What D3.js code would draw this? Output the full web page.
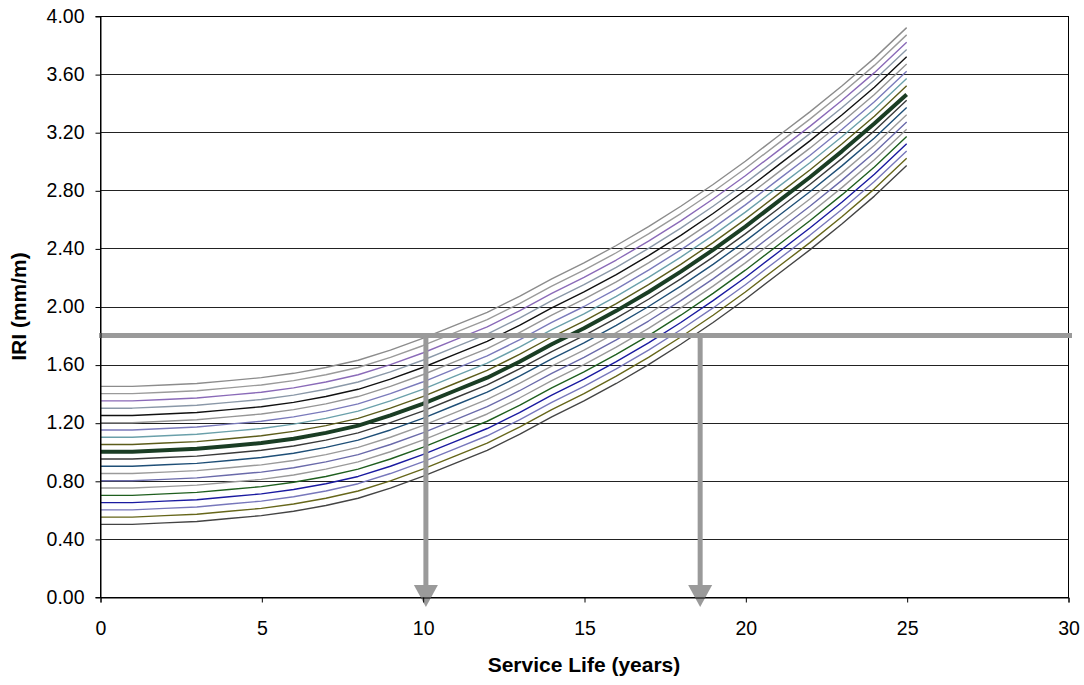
<!DOCTYPE html>
<html>
<head>
<meta charset="utf-8">
<script src="https://cdn.jsdelivr.net/npm/d3@7"></script>
<style>
    body { margin: 0; background: #fff; }
    svg { display: block; font-family: "Liberation Sans", Arial, sans-serif; }
</style>
</head>
<body>
<div id="chart"></div>
<script>
// service life in years (x values of every curve)
const years = d3.range(0, 26);

// IRI (mm/m) curves, one per initial roughness
const iri050 = [0.50,0.50,0.51,0.52,0.54,0.56,0.59,0.63,0.68,0.75,0.83,0.92,1.01,1.12,1.24,1.35,1.47,1.60,1.74,1.89,2.05,2.22,2.39,2.57,2.76,2.97];
const iri055 = [0.55,0.55,0.56,0.57,0.59,0.61,0.64,0.68,0.73,0.80,0.88,0.97,1.06,1.17,1.29,1.40,1.52,1.65,1.79,1.94,2.10,2.27,2.44,2.62,2.81,3.02];
const iri060 = [0.60,0.60,0.61,0.62,0.64,0.66,0.69,0.73,0.78,0.85,0.93,1.02,1.11,1.22,1.34,1.45,1.57,1.70,1.84,1.99,2.15,2.32,2.49,2.67,2.86,3.07];
const iri065 = [0.65,0.65,0.66,0.67,0.69,0.71,0.74,0.78,0.83,0.90,0.98,1.07,1.16,1.27,1.39,1.50,1.62,1.75,1.89,2.04,2.20,2.37,2.54,2.72,2.91,3.12];
const iri070 = [0.70,0.70,0.71,0.72,0.74,0.76,0.79,0.83,0.88,0.95,1.03,1.12,1.21,1.32,1.44,1.55,1.67,1.80,1.94,2.09,2.25,2.42,2.59,2.77,2.96,3.17];
const iri075 = [0.75,0.75,0.76,0.77,0.79,0.81,0.84,0.88,0.93,1.00,1.08,1.17,1.26,1.37,1.49,1.60,1.72,1.85,1.99,2.14,2.30,2.47,2.64,2.82,3.01,3.22];
const iri080 = [0.80,0.80,0.81,0.82,0.84,0.86,0.89,0.93,0.98,1.05,1.13,1.22,1.31,1.42,1.54,1.65,1.77,1.90,2.04,2.19,2.35,2.52,2.69,2.87,3.06,3.27];
const iri085 = [0.85,0.85,0.86,0.87,0.89,0.91,0.94,0.98,1.03,1.10,1.18,1.27,1.36,1.47,1.59,1.70,1.82,1.95,2.09,2.24,2.40,2.57,2.74,2.92,3.11,3.32];
const iri090 = [0.90,0.90,0.91,0.92,0.94,0.96,0.99,1.03,1.08,1.15,1.23,1.32,1.41,1.52,1.64,1.75,1.87,2.00,2.14,2.29,2.45,2.62,2.79,2.97,3.16,3.37];
const iri095 = [0.95,0.95,0.96,0.97,0.99,1.01,1.04,1.08,1.13,1.20,1.28,1.37,1.46,1.57,1.69,1.80,1.92,2.05,2.19,2.34,2.50,2.67,2.84,3.02,3.21,3.42];
const iri100 = [1.00,1.00,1.01,1.02,1.04,1.06,1.09,1.13,1.18,1.25,1.33,1.42,1.51,1.62,1.74,1.85,1.97,2.10,2.24,2.39,2.55,2.72,2.89,3.07,3.26,3.46];
const iri105 = [1.05,1.05,1.06,1.07,1.09,1.11,1.14,1.18,1.23,1.30,1.38,1.47,1.56,1.67,1.79,1.90,2.02,2.15,2.29,2.44,2.60,2.77,2.94,3.12,3.31,3.52];
const iri110 = [1.10,1.10,1.11,1.12,1.14,1.16,1.19,1.23,1.28,1.35,1.43,1.52,1.61,1.72,1.84,1.95,2.07,2.20,2.34,2.49,2.65,2.82,2.99,3.17,3.36,3.57];
const iri115 = [1.15,1.15,1.16,1.17,1.19,1.21,1.24,1.28,1.33,1.40,1.48,1.57,1.66,1.77,1.89,2.00,2.12,2.25,2.39,2.54,2.70,2.87,3.04,3.22,3.41,3.62];
const iri120 = [1.20,1.20,1.21,1.22,1.24,1.26,1.29,1.33,1.38,1.45,1.53,1.62,1.71,1.82,1.94,2.05,2.17,2.30,2.44,2.59,2.75,2.92,3.09,3.27,3.46,3.67];
const iri125 = [1.25,1.25,1.26,1.27,1.29,1.31,1.34,1.38,1.43,1.50,1.58,1.67,1.76,1.87,1.99,2.10,2.22,2.35,2.49,2.64,2.80,2.97,3.14,3.32,3.51,3.72];
const iri130 = [1.30,1.30,1.31,1.32,1.34,1.36,1.39,1.43,1.48,1.55,1.63,1.72,1.81,1.92,2.04,2.15,2.27,2.40,2.54,2.69,2.85,3.02,3.19,3.37,3.56,3.77];
const iri135 = [1.35,1.35,1.36,1.37,1.39,1.41,1.44,1.48,1.53,1.60,1.68,1.77,1.86,1.97,2.09,2.20,2.32,2.45,2.59,2.74,2.90,3.07,3.24,3.42,3.61,3.82];
const iri140 = [1.40,1.40,1.41,1.42,1.44,1.46,1.49,1.53,1.58,1.65,1.73,1.82,1.91,2.02,2.14,2.25,2.37,2.50,2.64,2.79,2.95,3.12,3.29,3.47,3.66,3.87];
const iri145 = [1.45,1.45,1.46,1.47,1.49,1.51,1.54,1.58,1.63,1.70,1.78,1.87,1.96,2.07,2.19,2.30,2.42,2.55,2.69,2.84,3.00,3.17,3.34,3.52,3.71,3.92];

const curves = [iri050, iri055, iri060, iri065, iri070, iri075, iri080, iri085, iri090, iri095,
                iri100, iri105, iri110, iri115, iri120, iri125, iri130, iri135, iri140, iri145];
const curveColors = ["#444444", "#66661a", "#7777bb", "#1a1aa0", "#1f5f1f", "#999999", "#6a6aaa", "#9a9a9a", "#1f4f77", "#3a3a3a",
                     "#1a3d24", "#5c5c1a", "#6aa0aa", "#7a7abb", "#959595", "#111111", "#8a98a8", "#8a6ab8", "#9a9a9a", "#8c8c8c"];
const thickCurve = 10; // index of the 1.00 curve

// threshold and the service lives read at it
const thresholdIRI = 1.8;
const crossYears = [10.1, 18.6];

const xTicks = [0, 5, 10, 15, 20, 25, 30];
const yTicks = d3.range(0, 4.01, 0.4);

const width = 1084;
const height = 685;
const margin = { top: 16, right: 16, bottom: 88, left: 100 };

const svg = d3
    .select("#chart")
    .append("svg")
    .attr("width", width)
    .attr("height", height);

const x = d3.scaleLinear().domain([0, 30]).range([margin.left, width - margin.right]);
const y = d3.scaleLinear().domain([0, 4]).range([height - margin.bottom, margin.top]);

// gridlines
svg.append("g")
    .selectAll("line")
    .data(yTicks)
    .enter()
    .append("line")
    .attr("x1", x(0))
    .attr("x2", x(30))
    .attr("y1", (d) => Math.round(y(d)) + 0.5)
    .attr("y2", (d) => Math.round(y(d)) + 0.5)
    .attr("stroke", "#222")
    .attr("stroke-width", 1);

// curves
const line = d3
    .line()
    .x((d, i) => x(years[i]))
    .y((d) => y(d));

svg.append("g")
    .selectAll("path")
    .data(curves)
    .enter()
    .append("path")
    .attr("d", line)
    .attr("fill", "none")
    .attr("stroke", (d, i) => curveColors[i])
    .attr("stroke-width", (d, i) => (i === thickCurve ? 4 : 1.4))
    .attr("stroke-linejoin", "round");

// plot border
svg.append("rect")
    .attr("x", x(0) + 0.5)
    .attr("y", y(4) + 0.5)
    .attr("width", x(30) - x(0))
    .attr("height", y(0) - y(4))
    .attr("fill", "none")
    .attr("stroke", "#000");

// threshold line and arrows
const arrowColor = "#9a9a9a";
svg.append("line")
    .attr("x1", x(0) - 1)
    .attr("x2", x(30) + 4)
    .attr("y1", y(thresholdIRI))
    .attr("y2", y(thresholdIRI))
    .attr("stroke", arrowColor)
    .attr("stroke-width", 5);

const arrows = svg.append("g")
    .selectAll("g")
    .data(crossYears)
    .enter()
    .append("g");

arrows.append("line")
    .attr("x1", (d) => x(d))
    .attr("x2", (d) => x(d))
    .attr("y1", y(thresholdIRI))
    .attr("y2", y(0) - 12)
    .attr("stroke", arrowColor)
    .attr("stroke-width", 5);

arrows.append("path")
    .attr("d", (d) => `M${x(d) - 12},${y(0) - 12} L${x(d) + 12},${y(0) - 12} L${x(d)},${y(0) + 10} Z`)
    .attr("fill", arrowColor);

// axes
const yAxis = d3
    .axisLeft(y)
    .tickValues(yTicks)
    .tickSize(5)
    .tickPadding(11)
    .tickFormat(d3.format(".2f"));

svg.append("g")
    .attr("transform", `translate(${x(0) + 0.5},0)`)
    .call(yAxis)
    .call((g) => g.select(".domain").attr("stroke", "#000"))
    .call((g) => g.selectAll(".tick line").attr("transform", "translate(0,0.5)"))
    .selectAll("text")
    .attr("font-size", "19.5px")
    .attr("font-family", "Liberation Sans, Arial, sans-serif")
    .attr("fill", "#000");

const xAxis = d3
    .axisBottom(x)
    .tickValues(xTicks)
    .tickSize(5)
    .tickPadding(19)
    .tickFormat(d3.format("d"));

svg.append("g")
    .attr("transform", `translate(0.5,${y(0) + 0.5})`)
    .call(xAxis)
    .call((g) => g.select(".domain").attr("stroke", "#000"))
    .selectAll("text")
    .attr("font-size", "19.5px")
    .attr("font-family", "Liberation Sans, Arial, sans-serif")
    .attr("fill", "#000");

// axis titles
svg.append("text")
    .attr("x", (x(0) + x(30)) / 2)
    .attr("y", 672)
    .attr("text-anchor", "middle")
    .attr("font-size", "21px")
    .attr("font-weight", "bold")
    .text("Service Life (years)");

svg.append("text")
    .attr("transform", `translate(26,${(y(0) + y(4)) / 2}) rotate(-90)`)
    .attr("text-anchor", "middle")
    .attr("font-size", "21px")
    .attr("font-weight", "bold")
    .text("IRI (mm/m)");
</script>
</body>
</html>
